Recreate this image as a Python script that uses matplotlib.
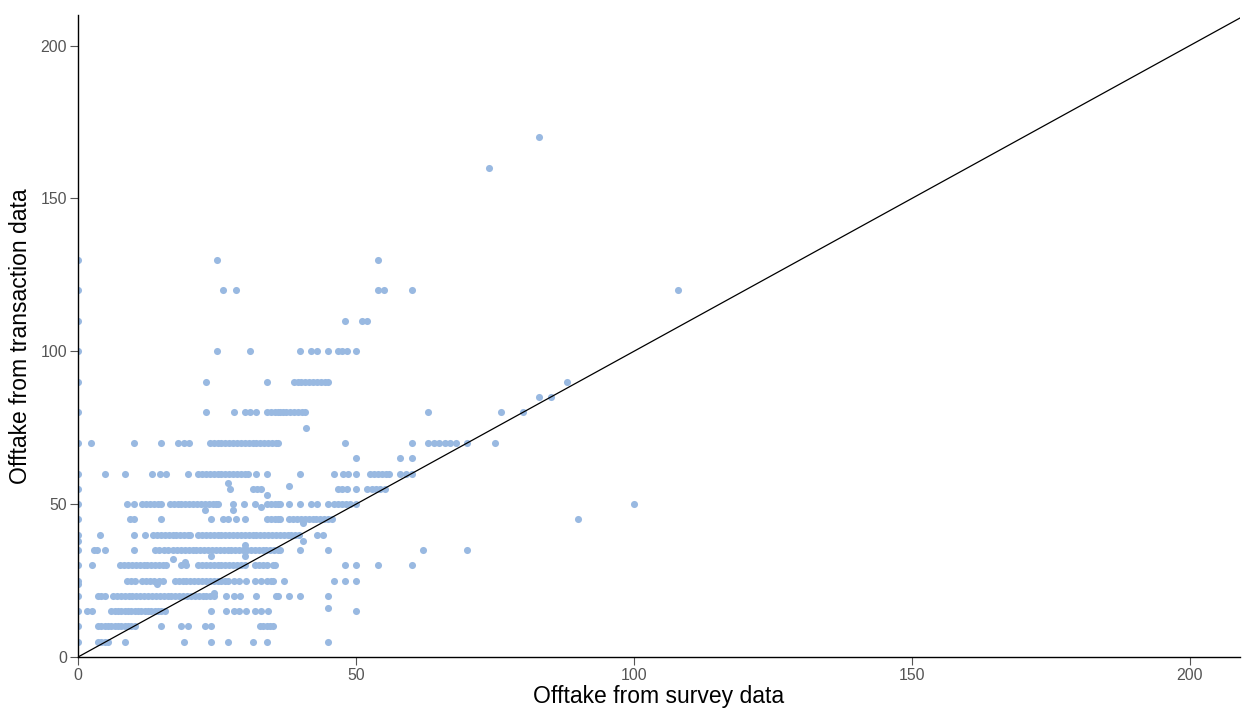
import matplotlib
matplotlib.use("Agg")
import matplotlib.pyplot as plt

plt.rcParams["font.family"] = ["Liberation Sans", "DejaVu Sans"]

# x values (survey offtake) for each y row (transaction offtake)
x_at_5 = [0, 3.6, 4.2, 4.8, 5.4, 8.5, 19, 24, 27, 31.5, 34, 45]
x_at_10 = [0, 3.6, 4.2, 4.8, 5.4, 6, 6.6, 7.2, 7.8, 8.4, 9, 9.6, 10.2, 15,
           18.6, 19.8, 22.8, 24, 32.7, 33.3, 34, 34.6, 35.1]
x_at_15 = [0, 1.6, 2.5, 6, 6.6, 7.2, 7.8, 8.4, 9, 9.6, 10.2, 10.8, 11.4, 12,
           12.6, 13.2, 13.8, 14.4, 15, 15.6, 24, 26.7, 28, 29, 30.3, 31.8,
           33, 34.2, 50]
x_at_20 = [0, 3.6, 4.2, 4.9, 6.3, 7, 7.7, 8.4, 9.1, 9.8, 10.5, 11.2, 11.9,
           12.6, 13.3, 14, 14.7, 15.4, 16.1, 16.8, 17.5, 18.2, 18.9, 19.6,
           20.3, 21, 21.7, 22.4, 23.1, 23.8, 24.5, 26.7, 28, 29.1, 32, 35.7,
           36, 38, 40, 45]
x_at_25 = [0, 8.8, 9.6, 10.3, 11.5, 12.2, 13, 13.7, 14.5, 15.3, 17.4, 18.1,
           18.8, 19.5, 20.2, 20.9, 21.6, 22.3, 23, 23.7, 24.4, 25.1, 25.8,
           26.5, 27, 28, 29, 30.3, 31.8, 33, 34, 34.8, 35, 37, 46, 48, 50]
x_at_30 = [0, 2.5, 7.6, 8.3, 9, 9.7, 10.4, 11.1, 11.8, 12.5, 13.2, 13.9,
           14.6, 15.3, 15.9, 18.6, 19.5, 21.6, 22.3, 23, 23.7, 24.4, 25.1,
           25.8, 26.5, 27.2, 27.9, 28.6, 29.3, 30, 31.8, 32.5, 33.2, 34, 35,
           35.4, 48, 50, 54, 60]
x_at_35 = [0, 2.8, 3.4, 4.9, 10, 13.8, 14.6, 15.4, 16.2, 17.1, 17.8, 18.5,
           19.2, 19.9, 20.6, 21.3, 22, 22.7, 23.4, 24.1, 24.8, 25.5, 26.2,
           26.9, 27.6, 28.3, 29, 29.7, 30.4, 31.1, 31.8, 32.5, 33.2, 33.9,
           34.6, 35.3, 36, 36.3, 40, 45, 62, 70]
x_at_40 = [0, 4, 10, 12, 13.5, 14.2, 14.9, 15.6, 16.3, 17, 17.7, 18.4, 19.1,
           19.8, 20.1, 21.6, 22.3, 23, 23.7, 24.4, 25.1, 25.8, 26.5, 27.2,
           27.9, 28.6, 29.3, 30, 30.7, 31.4, 32.1, 32.8, 33.5, 34.2, 34.9,
           35.6, 36.3, 37, 37.7, 38.4, 39.1, 39.8, 43, 44]
x_at_45 = [0, 9.4, 10, 15, 24, 26, 27, 28.5, 30, 34, 34.7, 35.4, 36, 36.3,
           38, 38.7, 39.4, 40.1, 40.8, 41.5, 42.2, 42.9, 43.6, 44.3, 45, 45.6,
           90]
x_at_50 = [0, 8.8, 10, 11.6, 12.3, 13, 13.7, 14.4, 15, 16.5, 17.2, 17.9,
           18.6, 19.3, 20, 20.7, 21.4, 22.1, 22.8, 23.5, 24.2, 24.9, 25.2,
           27.9, 29.9, 31.8, 34, 34.7, 35.4, 36, 36.3, 38, 40, 42, 43, 45,
           46, 46.8, 47.5, 48.2, 49, 50, 100]
x_at_55 = [0, 27.3, 31.5, 32.2, 32.9, 46.8, 47.5, 48.3, 50, 52, 52.8, 53.6,
           54.4, 55.2]
x_at_60 = [0, 4.9, 8.5, 13.4, 14.7, 15.9, 19.8, 21.6, 22.3, 23, 23.7, 24.4,
           25.1, 25.8, 26.5, 27.2, 27.9, 28.6, 29.3, 30, 30.6, 32, 34, 40, 46,
           47.7, 48.6, 50, 52.5, 53.2, 54, 54.7, 55.4, 56, 58, 59, 60]
x_at_65 = [50, 58, 60]
x_at_70 = [0, 2.3, 10, 14.9, 17.9, 19, 20, 23.7, 24.4, 25.1, 25.8, 26.5,
           27.2, 27.9, 28.6, 29.3, 30, 30.7, 31.4, 32.1, 32.8, 33.5, 34.2,
           34.9, 35.6, 36, 48, 60, 63, 64, 65, 66, 67, 68, 70, 75]
x_at_80 = [0, 23, 28, 30, 31, 32, 34, 34.7, 35.4, 36, 36.3, 36.8, 37.5, 38.2,
           38.9, 39.6, 40.3, 40.8, 63, 76, 80]
x_at_85 = [83, 85]
x_at_90 = [0, 23, 34, 38.8, 39.5, 40.2, 40.9, 41.6, 42.3, 43, 43.7, 44.4,
           45, 88]
x_at_100 = [0, 25, 31, 40, 42, 43, 45, 46.8, 47.5, 48.3, 50]
x_at_110 = [0, 48, 51, 52]
x_at_120 = [0, 26, 28.5, 54, 55, 60, 108]
x_at_130 = [0, 25, 54]
x_at_160 = [74]
x_at_170 = [83]

# points off the 5-unit rows
loose_x = [45, 24.5, 14.2, 19.2, 17, 24, 30, 30, 40.5, 40.5, 22.8, 27.9,
           33, 26.9, 34, 38, 41, 0, 0]
loose_y = [16, 21, 24, 31, 32, 33, 33, 36.6, 38, 44, 48, 48, 49, 57, 53, 56,
           75, 24, 38]

rows = {5: x_at_5, 10: x_at_10, 15: x_at_15, 20: x_at_20, 25: x_at_25,
        30: x_at_30, 35: x_at_35, 40: x_at_40, 45: x_at_45, 50: x_at_50,
        55: x_at_55, 60: x_at_60, 65: x_at_65, 70: x_at_70, 80: x_at_80,
        85: x_at_85, 90: x_at_90, 100: x_at_100, 110: x_at_110,
        120: x_at_120, 130: x_at_130, 160: x_at_160, 170: x_at_170}

xs, ys = [], []
for yv, xl in rows.items():
    xs += xl
    ys += [yv] * len(xl)
xs += loose_x
ys += loose_y

fig = plt.figure(figsize=(12.44, 7.11), dpi=100)
ax = fig.add_axes([0.0627, 0.0759, 0.934, 0.903])

ax.scatter(xs, ys, s=26, color="#99b9e1", linewidths=0, zorder=2)
ax.plot([0, 215], [0, 215], color="black", lw=0.9, zorder=3)

ax.set_xlim(0, 209)
ax.set_ylim(0, 210)
ax.set_xticks([0, 50, 100, 150, 200])
ax.set_yticks([0, 50, 100, 150, 200])

for s in ["top", "right"]:
    ax.spines[s].set_visible(False)
for s in ["left", "bottom"]:
    ax.spines[s].set_color("black")
    ax.spines[s].set_linewidth(1)
    ax.spines[s].set_zorder(4)

ax.tick_params(direction="out", length=6, width=0.8, color="#555555",
               labelcolor="#555555", labelsize=11.4, pad=2)

ax.set_xlabel("Offtake from survey data", fontsize=16.5, labelpad=1)
ax.set_ylabel("Offtake from transaction data", fontsize=16.5, labelpad=6)

fig.savefig("out.png", dpi=100)
